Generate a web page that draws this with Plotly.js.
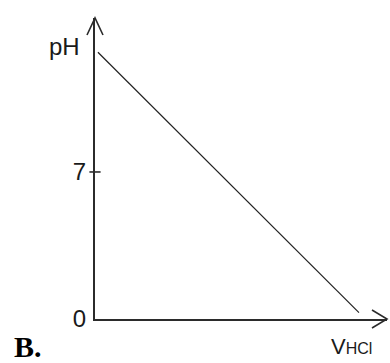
<!DOCTYPE html>
<html>
<head>
<meta charset="utf-8">
<script src="https://cdn.plot.ly/plotly-3.0.1.min.js"></script>
<style>
  html, body { margin: 0; padding: 0; background: #fff; }
  #chart { width: 390px; height: 363px; }
</style>
</head>
<body>
<div id="chart"></div>
<script>
// titration curve: pH falls as HCl is added
const vHCl = [1, 90.4];
const pH = [12.7, 0.3];

const yTickVals = [0, 7];
const yTickText = ["0", "7"];
const markedTick = [7];

const xMax = 100;
const yMax = 14.33;

const axisColor = "#2b2b2b";
const textColor = "#1a1a1a";

const curve = {
  x: vHCl,
  y: pH,
  mode: "lines",
  line: { color: "#222", width: 1.2 },
  hoverinfo: "skip"
};

// small tick crossing the y axis at pH 7
const tickMark = {
  x: markedTick.map(() => 0),
  y: markedTick,
  mode: "markers",
  marker: { symbol: "line-ew", size: 8, line: { color: axisColor, width: 1.6 } },
  cliponaxis: false,
  hoverinfo: "skip"
};

const arrowLine = { color: axisColor, width: 1.6 };

Plotly.newPlot("chart", [curve, tickMark], {
  width: 390,
  height: 363,
  margin: { l: 95, r: 3, t: 18, b: 44 },
  paper_bgcolor: "#fff",
  plot_bgcolor: "#fff",
  showlegend: false,
  hovermode: false,
  font: { family: "Liberation Sans, Arial, sans-serif", color: textColor },
  xaxis: {
    range: [0, xMax],
    showline: true,
    linecolor: axisColor,
    linewidth: 2,
    showgrid: false,
    zeroline: false,
    showticklabels: false,
    ticks: ""
  },
  yaxis: {
    range: [0, yMax],
    showline: true,
    linecolor: axisColor,
    linewidth: 2,
    showgrid: false,
    zeroline: false,
    ticks: "",
    tickvals: yTickVals,
    ticktext: yTickText,
    tickfont: { size: 24, color: textColor },
    ticklabelstandoff: 2
  },
  // open arrow heads at the ends of both axes
  shapes: [
    {
      type: "path", xref: "paper", yref: "paper",
      xsizemode: "pixel", ysizemode: "pixel",
      xanchor: 1, yanchor: 0,
      path: "M-15,-9 L0,0 L-15,9",
      line: arrowLine
    },
    {
      type: "path", xref: "paper", yref: "paper",
      xsizemode: "pixel", ysizemode: "pixel",
      xanchor: 0, yanchor: 1,
      path: "M-8,-17 L0,0 L8,-17",
      line: arrowLine
    }
  ],
  annotations: [
    {
      text: "pH", xref: "paper", yref: "paper",
      x: 0, y: 0.904, xshift: -13, xanchor: "right", yanchor: "middle",
      showarrow: false, font: { size: 24, color: textColor }
    },
    {
      text: 'V<span style="font-size:16px">HCl</span>',
      xref: "paper", yref: "paper",
      x: 0.879, y: -0.09, xanchor: "center", yanchor: "middle",
      showarrow: false, font: { size: 22, color: textColor }
    },
    {
      text: "<b>B.</b>", xref: "paper", yref: "paper",
      x: -0.284, y: -0.093, xanchor: "left", yanchor: "middle",
      showarrow: false,
      font: { family: "Liberation Serif, Times New Roman, serif", size: 30, color: "#000" }
    }
  ]
}, { displayModeBar: false, staticPlot: true });
</script>
</body>
</html>
